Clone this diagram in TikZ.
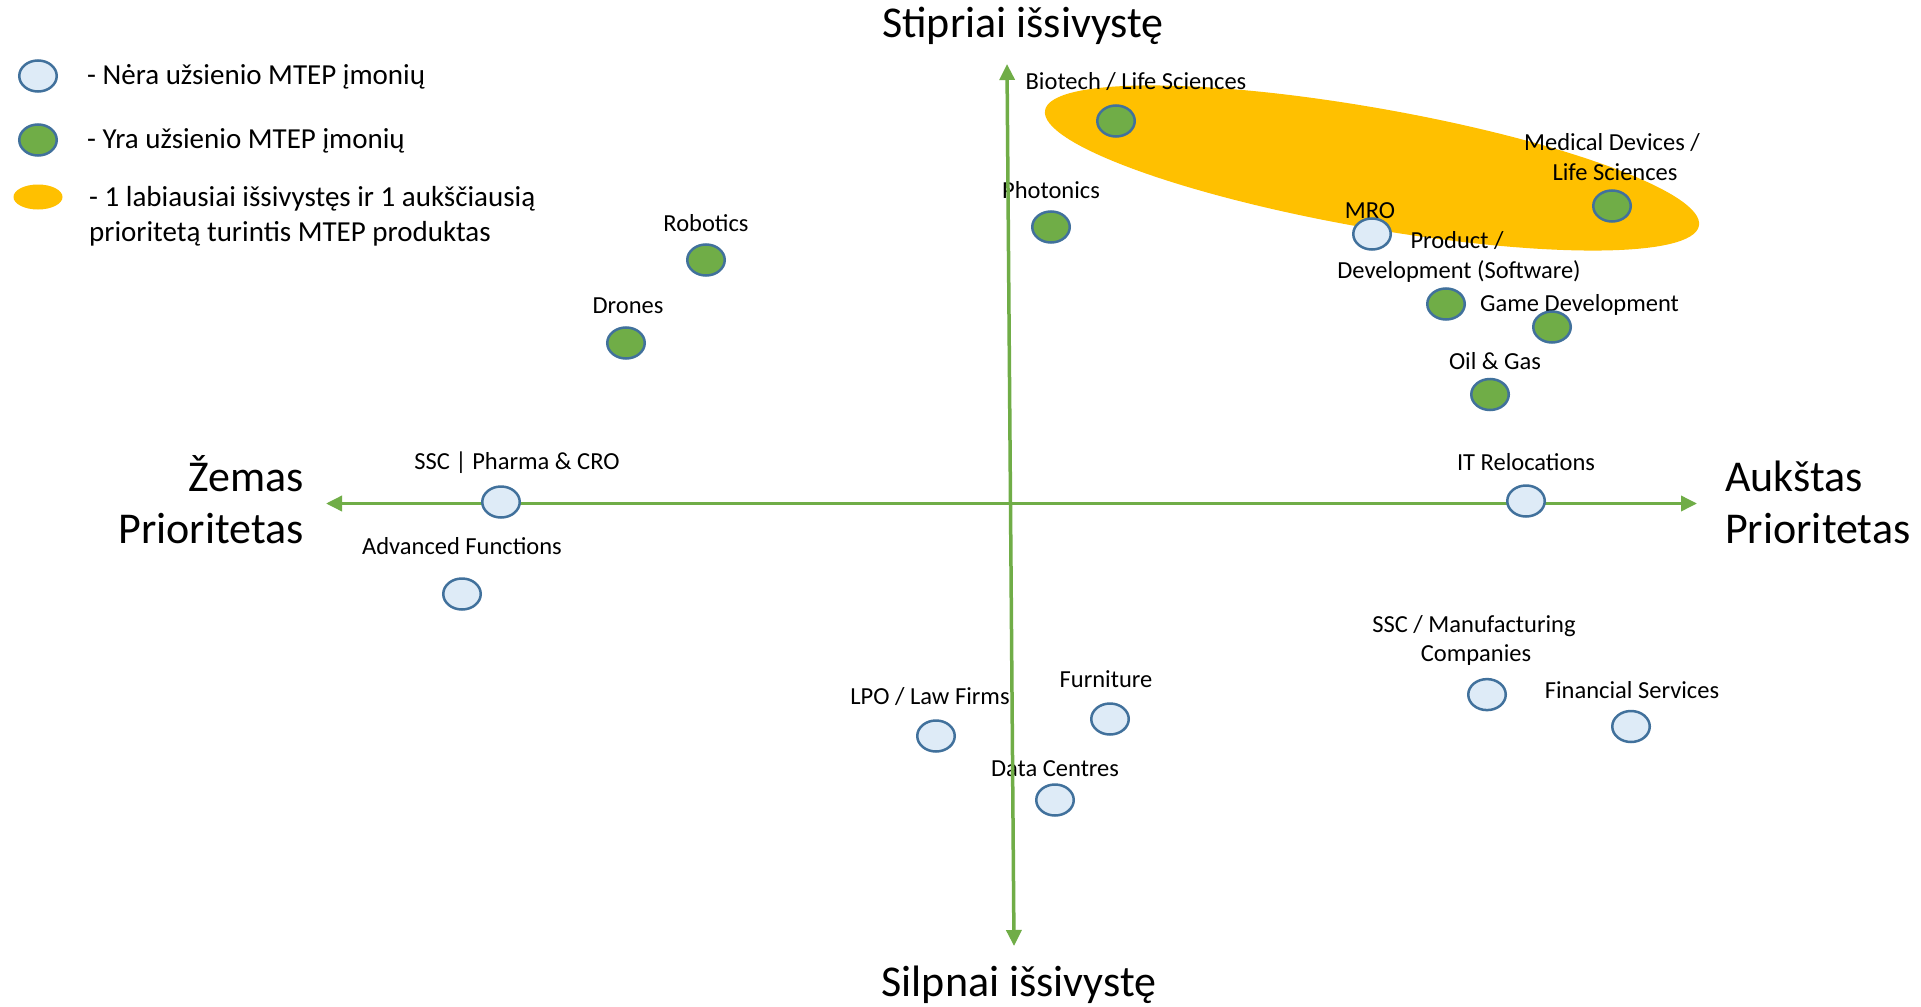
\documentclass[tikz,border=0pt]{standalone}
\usepackage{fontspec}
\setmainfont{Carlito}
\usetikzlibrary{arrows.meta,shapes.geometric}
\definecolor{axgreen}{HTML}{70AD47}
\definecolor{dotblue}{HTML}{41719C}
\definecolor{lightfill}{HTML}{DEEBF7}
\definecolor{hlorange}{HTML}{FFC000}
\tikzset{
 lbl/.style={font=\fontsize{24.5}{29}\selectfont, inner sep=0pt, anchor=base},
 lblw/.style={lbl, anchor=base west},
 big/.style={font=\fontsize{44}{53}\selectfont, inner sep=0pt, anchor=base},
 leg/.style={font=\fontsize{29}{35}\selectfont, inner sep=0pt, anchor=base west},
 dotbase/.style={ellipse, draw=dotblue, line width=2.5pt, minimum width=37.5pt, minimum height=31pt, inner sep=0pt},
 nodot/.style={dotbase, fill=lightfill},
 yesdot/.style={dotbase, fill=axgreen},
 axisline/.style={draw=axgreen, line width=3.5pt, {Triangle[length=16pt,width=15pt]}-{Triangle[length=16pt,width=15pt]}},
}
\begin{document}
\begin{tikzpicture}[x=1pt,y=-1pt]
\useasboundingbox[fill=white] (0,0) rectangle (1921,1006);
% highlight ellipse
\node[ellipse, fill=hlorange, minimum width=664pt, minimum height=120pt, inner sep=0pt, rotate=-10] (hl) at (1372,168) {};
% legend
\node[nodot] (lg1) at (38,76) {};
\node[yesdot] (lg2) at (38,140) {};
\node[ellipse, fill=hlorange, minimum width=49pt, minimum height=25pt, inner sep=0pt] (lg3) at (38,197) {};
\node[leg] (lt1) at (87,85) {- Nėra užsienio MTEP įmonių};
\node[leg] (lt2) at (87,149) {- Yra užsienio MTEP įmonių};
\node[leg] (lt3a) at (89,206) {- 1 labiausiai išsivystęs ir 1 aukščiausią};
\node[leg] (lt3b) at (89,241) {prioritetą turintis MTEP produktas};
% axis titles
\node[big] (ttop) at (1023,38) {Stipriai išsivystę};
\node[big] (tbot) at (1019,996) {Silpnai išsivystę};
\node[big, anchor=base east] (tl1) at (304,491) {Žemas};
\node[big, anchor=base east] (tl2) at (304,543) {Prioritetas};
\node[big, anchor=base west] (tr1) at (1725,491) {Aukštas};
\node[big, anchor=base west] (tr2) at (1725,543) {Prioritetas};
% labels
\node[lbl] (lbio) at (1136,90) {Biotech / Life Sciences};
\node[lbl] (lmed1) at (1612,150) {Medical Devices /};
\node[lbl] (lmed2) at (1615,180) {Life Sciences};
\node[lbl] (lpho) at (1051,198) {Photonics};
\node[lbl] (lmro) at (1370,218) {MRO};
\node[lbl] (lprod1) at (1457,248) {Product /};
\node[lbl] (lprod2) at (1459,278) {Development (Software)};
\node[lblw] (lgame) at (1480,311) {Game Development};
\node[lbl] (loil) at (1495,369) {Oil \& Gas};
\node[lbl] (lrob) at (706,231) {Robotics};
\node[lbl] (ldro) at (628,313) {Drones};
\node[lbl] (lssc) at (517,469) {SSC | Pharma \& CRO};
\node[lbl] (ladv) at (462,554) {Advanced Functions};
\node[lbl] (lit) at (1526,470) {IT Relocations};
\node[lbl] (lman1) at (1474,632) {SSC / Manufacturing};
\node[lbl] (lman2) at (1476,661) {Companies};
\node[lbl] (lfin) at (1632,698) {Financial Services};
\node[lbl] (lfur) at (1106,687) {Furniture};
\node[lbl] (llpo) at (930,704) {LPO / Law Firms};
\node[lbl] (ldat) at (1055,776) {Data Centres};
% axes
\coordinate (xl) at (326,503.5);
\coordinate (xr) at (1697,503.5);
\coordinate (yt) at (1007,64);
\coordinate (yb) at (1014,946);
\draw[axisline] (xl) -- (xr);
\draw[axisline] (yb) -- (yt);
% dots
\node[yesdot] (dbio) at (1116,121) {};
\node[yesdot] (dmed) at (1612,206) {};
\node[yesdot] (dpho) at (1051,227) {};
\node[nodot] (dmro) at (1372,234) {};
\node[yesdot] (dgame) at (1446,304) {};
\node[yesdot] (dgame2) at (1552,327) {};
\node[yesdot] (doil) at (1490,394.5) {};
\node[yesdot] (drob) at (706,260) {};
\node[yesdot] (ddro) at (626,343) {};
\node[nodot] (dssc) at (501,502) {};
\node[nodot] (dadv) at (462,594) {};
\node[nodot] (dit) at (1526,501) {};
\node[nodot] (dman) at (1487,694.6) {};
\node[nodot] (dfin) at (1631,726.5) {};
\node[nodot] (dfur) at (1110,719) {};
\node[nodot] (dlpo) at (936,736) {};
\node[nodot] (ddat) at (1055,800) {};
\end{tikzpicture}
\end{document}
